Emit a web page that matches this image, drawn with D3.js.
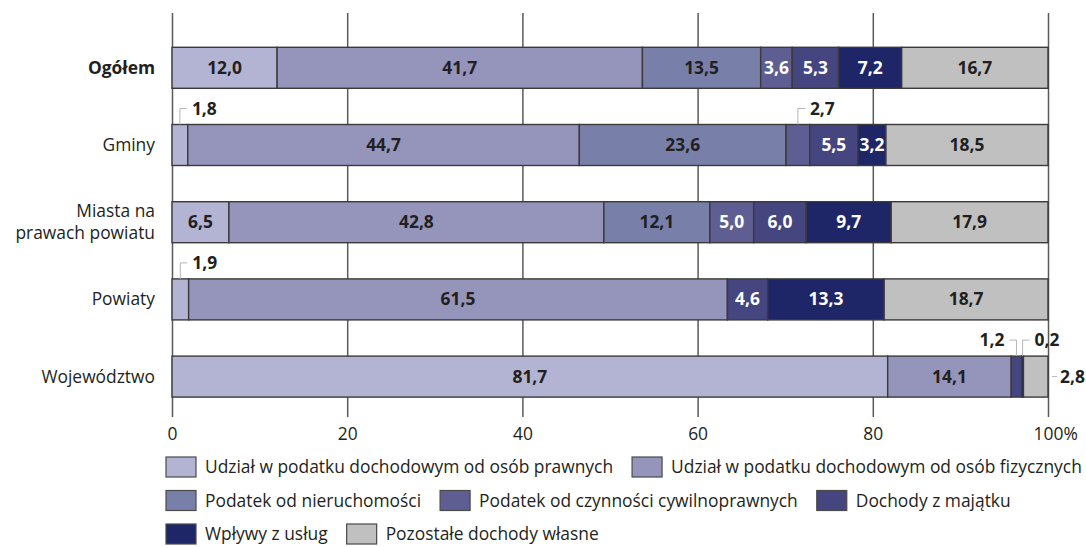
<!DOCTYPE html>
<html>
<head>
<meta charset="utf-8">
<script src="https://cdn.jsdelivr.net/npm/d3@7"></script>
<style>
  html, body { margin: 0; padding: 0; background: #fff; }
  svg { display: block; font-family: "Open Sans", "Noto Sans", sans-serif; }
</style>
</head>
<body>
<svg id="chart" width="1086" height="547"></svg>
<script>
// ---- data ----
const categories = ["Ogółem", "Gminy", "Miasta na prawach powiatu", "Powiaty", "Województwo"];
const seriesNames = [
  "Udział w podatku dochodowym od osób prawnych",
  "Udział w podatku dochodowym od osób fizycznych",
  "Podatek od nieruchomości",
  "Podatek od czynności cywilnoprawnych",
  "Dochody z majątku",
  "Wpływy z usług",
  "Pozostałe dochody własne"
];
const cit       = [12.0, 1.8, 6.5, 1.9, 81.7];
const pit       = [41.7, 44.7, 42.8, 61.5, 14.1];
const property  = [13.5, 23.6, 12.1, 0, 0];
const civil     = [3.6, 2.7, 5.0, 0, 0];
const assets    = [5.3, 5.5, 6.0, 4.6, 1.2];
const services  = [7.2, 3.2, 9.7, 13.3, 0.2];
const other     = [16.7, 18.5, 17.9, 18.7, 2.8];
const seriesValues = [cit, pit, property, civil, assets, services, other];
const tickValues = [0, 20, 40, 60, 80, 100];
const tickLabels = ["0", "20", "40", "60", "80", "100%"];

// ---- styles ----
const colors = ["#b3b3d3", "#9594bb", "#7880aa", "#5f5e93", "#45457f", "#1f2667", "#c0c0c0"];
const lightText = [false, false, false, true, true, true, false];
const categoryLines = {"Miasta na prawach powiatu": ["Miasta na", "prawach powiatu"]};
const boldCategory = "Ogółem";
const calloutSide = {"Województwo|Dochody z majątku": "left", "Województwo|Pozostałe dochody własne": "end"};
const legendRows = [[0, 1], [2, 3, 4], [5, 6]];
const FS = 17.4;

const svg = d3.select("#chart");
const fmt = v => v.toFixed(1).replace(".", ",");

const x = d3.scaleLinear().domain([0, 100]).range([172, 1048]);
const y = d3.scaleBand().domain(categories).range([29.2, 415.2]).paddingInner(0.469).paddingOuter(0.2345);

// grid / axis
const gridTop = 13, gridBottom = 417;
const axis = d3.axisBottom(x).tickValues(tickValues)
  .tickFormat((d, i) => tickLabels[i])
  .tickSize(-(gridBottom - gridTop)).tickPadding(11);
const ag = svg.append("g").attr("transform", `translate(0,${gridBottom})`).call(axis);
ag.select(".domain").remove();
ag.selectAll(".tick line").attr("stroke", "#5a5a5a").attr("stroke-width", 1.5);
ag.selectAll(".tick text").attr("font-size", FS).attr("fill", "#231f20").attr("font-family", "Open Sans");
// "100%" : keep number centred on the tick, percent sign hanging right
ag.selectAll(".tick text").filter((d) => d === 100).each(function () {
  const t = d3.select(this);
  const tmp = ag.append("text").attr("font-size", FS).attr("font-family", "Open Sans").text("100");
  const w = tmp.node().getComputedTextLength();
  tmp.remove();
  t.attr("text-anchor", "start").attr("x", -w / 2);
});

// stack
const rows = categories.map((c, i) => {
  const o = {category: c};
  seriesNames.forEach((s, j) => o[s] = seriesValues[j][i]);
  return o;
});
const stacked = d3.stack().keys(seriesNames)(rows);

const barG = svg.append("g");
stacked.forEach((layer, j) => {
  layer.forEach((d, i) => {
    const v = d[1] - d[0];
    if (v <= 0) return;
    const cat = categories[i];
    barG.append("rect")
      .attr("x", x(d[0])).attr("y", y(cat))
      .attr("width", x(d[1]) - x(d[0])).attr("height", y.bandwidth())
      .attr("fill", colors[j]).attr("stroke", "#3a3a3a").attr("stroke-width", 1.4);
  });
});

// labels
const labG = svg.append("g").attr("font-weight", 700).attr("font-size", FS);
stacked.forEach((layer, j) => {
  layer.forEach((d, i) => {
    const v = d[1] - d[0];
    if (v <= 0) return;
    const cat = categories[i];
    const cx = x((d[0] + d[1]) / 2);
    const top = y(cat), cy = top + y.bandwidth() / 2;
    if (v >= 3) {
      labG.append("text").attr("x", cx).attr("y", cy).attr("dy", "0.35em")
        .attr("text-anchor", "middle").attr("fill", lightText[j] ? "#ffffff" : "#231f20")
        .text(fmt(v));
    } else {
      const side = calloutSide[cat + "|" + seriesNames[j]] || "right";
      const ly = top - 16;
      if (side === "end") {
        const x0 = x(100) + 4;
        labG.append("path").attr("d", `M${x0},${cy}H${x0 + 5}`)
          .attr("stroke", "#b5b5b5").attr("stroke-width", 1).attr("fill", "none");
        labG.append("text").attr("x", x0 + 8).attr("y", cy).attr("dy", "0.35em")
          .attr("fill", "#231f20").text(fmt(v));
      } else {
        const dir = side === "left" ? -1 : 1;
        labG.append("path").attr("d", `M${cx},${top}V${ly}H${cx + dir * 7}`)
          .attr("stroke", "#b5b5b5").attr("stroke-width", 1).attr("fill", "none");
        labG.append("text").attr("x", cx + dir * 12).attr("y", ly).attr("dy", "0.35em")
          .attr("text-anchor", side === "left" ? "end" : "start")
          .attr("fill", "#231f20").text(fmt(v));
      }
    }
  });
});

// category labels
const catG = svg.append("g").attr("font-size", FS).attr("fill", "#231f20");
categories.forEach(c => {
  const lines = categoryLines[c] || [c];
  const cy = y(c) + y.bandwidth() / 2;
  lines.forEach((ln, k) => {
    catG.append("text").attr("x", 155)
      .attr("y", cy + (k - (lines.length - 1) / 2) * 22)
      .attr("dy", "0.35em").attr("text-anchor", "end")
      .attr("font-weight", c === boldCategory ? 700 : 400)
      .text(ln);
  });
});

// legend
const legG = svg.append("g").attr("font-size", FS).attr("fill", "#231f20");
legendRows.forEach((row, r) => {
  let lx = 166;
  const ry = 457 + r * 33.5;
  row.forEach(j => {
    legG.append("rect").attr("x", lx).attr("y", ry).attr("width", 30).attr("height", 20)
      .attr("fill", colors[j]).attr("stroke", "#4a4a4a").attr("stroke-width", 1.2);
    const t = legG.append("text").attr("x", lx + 39).attr("y", ry + 10).attr("dy", "0.35em").text(seriesNames[j]);
    lx += 39 + t.node().getComputedTextLength() + 19;
  });
});
</script>
</body>
</html>
